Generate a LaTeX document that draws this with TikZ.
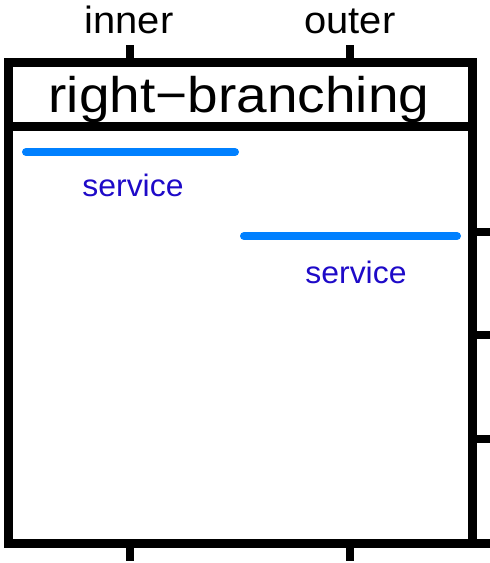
\documentclass[tikz,border=0pt]{standalone}
\usepackage{fontspec}
\setmainfont{Liberation Sans}
\definecolor{segblue}{RGB}{0,128,255}
\definecolor{labblue}{RGB}{30,10,200}
\begin{document}
\begin{tikzpicture}[x=1pt,y=-1pt,
  frame/.style={line width=9pt,line join=miter},
  tick/.style={line width=8pt},
  seg/.style={line width=8pt,segblue,line cap=round},
  axlab/.style={font=\fontsize{38}{42}\selectfont,anchor=base,inner sep=0pt,xscale=1.05},
  seglab/.style={font=\fontsize{31}{35}\selectfont,text=labblue,anchor=base,inner sep=0pt,xscale=1.03},
  strip/.style={font=\fontsize{50}{55}\selectfont,anchor=base,inner sep=0pt,xscale=1.1}]
\useasboundingbox (0,0) rectangle (490,563);
% panel frame and strip
\draw[frame] (8,62) rectangle (472,543);
\draw[frame] (8,126) -- (472,126);
% ticks
\foreach \x in {130,350} {
  \draw[tick] (\x,62) -- (\x,45);
  \draw[tick] (\x,543) -- (\x,561);
}
\foreach \y in {232,335,439} \draw[tick] (472,\y) -- (490,\y);
\draw[frame] (472,543) -- (490,543);
% axis labels
\node[axlab] (inner) at (129,33) {inner};
\node[axlab] (outer) at (350,33) {outer};
\node[strip] (strip) at (239,112) {right−branching};
% segments
\coordinate (a1) at (26,152);
\coordinate (a2) at (235,152);
\coordinate (b1) at (244,236);
\coordinate (b2) at (457,236);
\draw[seg] (a1) -- (a2);
\draw[seg] (b1) -- (b2);
\node[seglab] (s1) at (133,196) {service};
\node[seglab] (s2) at (356,283) {service};
\end{tikzpicture}
\end{document}
